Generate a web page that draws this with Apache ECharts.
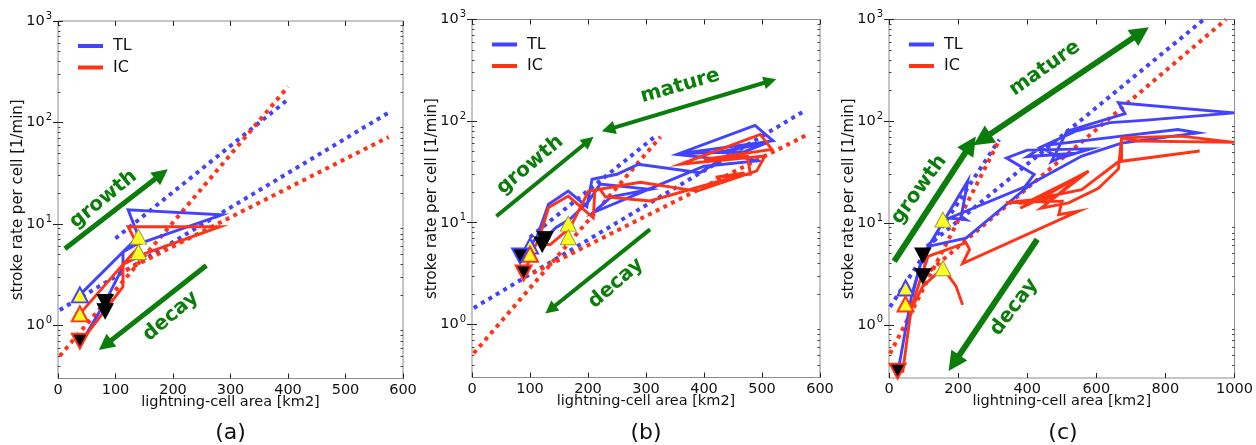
<!DOCTYPE html>
<html><head><meta charset="utf-8">
<script src="https://cdn.jsdelivr.net/npm/echarts@6/dist/echarts.min.js"></script>
<style>html,body{margin:0;padding:0;background:#fff}#c{width:1256px;height:445px}</style>
</head><body><div id="c"></div>
<script>
// ---------------- data ----------------
const panelLabels = ['(a)', '(b)', '(c)'];
const xMaxes = [600, 600, 1000];
const xIntervals = [100, 100, 200];
const yMajorTicks = [1, 10, 100, 1000];
const yMinorTicks = [0.4,0.5,0.6,0.7,0.8,0.9,2,3,4,5,6,7,8,9,20,30,40,50,60,70,80,90,200,300,400,500,600,700,800,900];
const yMin = 0.3, yMax = 1000;

// panel (a)
const tlA = [[38,2.0],[113,5.3],[134,6.2],[285,12.3],[122,13.8],[140,7.5],[113,5.3],[113,3.8],[82,1.7],[48,0.8],[38,0.72]];
const icA = [[38,1.3],[113,4.0],[151,5.1],[282,9.4],[122,9.4],[140,5.9],[113,4.0],[113,2.4],[47,0.78],[38,0.72]];
const fitTlA = [[[3,1.42],[575,125]], [[100,7.2],[398,165]]];
const fitIcA = [[[3,0.5],[400,225]], [[105,3.2],[575,72]]];
const startTlA = [[38,2.0]], startIcA = [[38,1.3]], startOtherA = [[140,7.5],[140,5.3]];
const endTlA = [], endIcA = [[38,0.7]], endOtherA = [[82,1.7],[82,1.38]];

// panel (b)
const tlB = [[100,5.9],[112,7.3],[132,15.2],[166,20.5],[198,14.4],[207,26.8],[250,30],[287,37.6],[393,31.1],[430,42],[353,47],[488,91],[519,64],[360,48],[470,50],[508,61],[430,50],[491,40.6],[400,36],[304,21.3],[209,12.6],[240,18],[307,21.3],[221,24],[200,16],[170,11],[145,9],[124,6.9]];
const tlB2 = [[100,6.2],[92,5.2],[83,4.7]];
const icB = [[101,4.9],[115,6.8],[132,14.1],[166,18.3],[209,11.2],[212,21],[290,25],[388,20.5],[491,32.4],[505,45.3],[359,37.6],[497,74],[517,52.7],[400,42],[475,45],[480,30],[420,28],[470,31],[440,27],[307,16.4],[230,18],[221,21.3],[201,20.5],[169,8.9],[135,6.1],[120,6.1]];
const icB2 = [[101,4.6],[95,3.8],[89,3.2]];
const fitTlB = [[[3,1.45],[575,128]], [[100,7.2],[315,70]]];
const fitIcB = [[[3,0.52],[325,70]], [[105,3.2],[575,72]]];
const startTlB = [[100,5.9]], startIcB = [[100,4.9]], startOtherB = [[166,9.8],[166,7.2]];
const endTlB = [[83,4.7]], endIcB = [[89,3.2]], endOtherB = [[126,6.9],[121,6.1]];

// panel (c)
const tlC = [[27,0.36],[65,1.9],[98,4.8],[161,10.8],[228,26],[209,11.6],[223,10.8],[175,11.2],[393,22.7],[420,30],[340,43.6],[400,52],[583,53.5],[496,43.6],[440,55],[400,45],[520,48],[470,40],[515,80],[683,119],[664,152],[999,121],[736,102],[640,97],[540,80],[450,58],[673,71.5],[836,83],[894,77],[673,61],[558,45.5],[415,24.8],[223,7.1],[113,5.9],[98,3.0]];
const tlC2 = [[40,2.1],[70,2.1],[98,4.8]];
const icC = [[27,0.35],[40,0.35],[65,1.5],[113,4.7],[223,6.4],[233,5.5],[213,4.0],[549,13.1],[491,12.1],[501,16.4],[338,15.8],[420,17],[578,32.4],[440,14],[520,15.8],[606,22],[664,34],[673,68.6],[846,71.5],[999,62],[721,64],[673,68],[673,40.6],[899,51],[664,40],[558,21.3],[450,18],[380,14],[470,20],[560,30],[400,16],[480,18],[530,25]];
const icC2 = [[48,1.55],[70,1.55],[98,2.4],[156,3.6],[194,2.4],[213,1.57]];
const fitTlC = [[[3,1.5],[319,66]], [[110,5.9],[911,1000]]];
const fitIcC = [[[3,0.52],[320,66]], [[100,3.0],[975,1000]]];
const startTlC = [[48,2.3]], startIcC = [[48,1.6]], startOtherC = [[156,10.8],[156,3.6]];
const endTlC = [], endIcC = [[25,0.35]], endOtherC = [[98,4.8],[98,3.0]];

// annotations (arrows + words), in data units of each panel
const arrowsA = [{from:[12,5.7], to:[180,31], both:false, w:5}, {from:[258,3.9], to:[82,0.64], both:false, w:5}];
const wordsA = [{text:'growth', at:[79,17.5], rot:39}, {text:'decay', at:[196,1.23], rot:40}];
const arrowsB = [{from:[42,11.6], to:[201,64], both:false, w:4}, {from:[235,83], to:[514,248], both:true, w:4}, {from:[307,8.6], to:[135,1.4], both:false, w:4}];
const wordsB = [{text:'growth', at:[100,37], rot:40}, {text:'mature', at:[359,221], rot:16}, {text:'decay', at:[248,2.53], rot:41}];
const arrowsC = [{from:[15,4.2], to:[236,59], both:false, w:6}, {from:[269,66], to:[729,743], both:true, w:6}, {from:[429,6.9], to:[188,0.42], both:false, w:6}];
const wordsC = [{text:'growth', at:[87,21.3], rot:54}, {text:'mature', at:[451,331], rot:35}, {text:'decay', at:[362,1.49], rot:53}];

const panels = [
  {tl:[tlA], ic:[icA], fitTl:fitTlA, fitIc:fitIcA, sTl:startTlA, sIc:startIcA, sO:startOtherA, eTl:endTlA, eIc:endIcA, eO:endOtherA, arrows:arrowsA, words:wordsA},
  {tl:[tlB, tlB2], ic:[icB, icB2], fitTl:fitTlB, fitIc:fitIcB, sTl:startTlB, sIc:startIcB, sO:startOtherB, eTl:endTlB, eIc:endIcB, eO:endOtherB, arrows:arrowsB, words:wordsB},
  {tl:[tlC, tlC2], ic:[icC, icC2], fitTl:fitTlC, fitIc:fitIcC, sTl:startTlC, sIc:startIcC, sO:startOtherC, eTl:endTlC, eIc:endIcC, eO:endOtherC, arrows:arrowsC, words:wordsC}
];

// ---------------- style / layout ----------------
const FONT = 'DejaVu Sans';
const BLUE = '#4242ff', RED = '#ff3316', GREEN = '#0a7d0a', YEL = '#ffff22';
const grids = [
  {left:58, top:21, width:345, height:357.5},
  {left:472, top:19.5, width:348, height:358},
  {left:889, top:19.5, width:348, height:358.5}
];

const option = {animation:false, backgroundColor:'#fff', grid:[], xAxis:[], yAxis:[], series:[], legend:[], graphic:[]};

grids.forEach((g, i) => {
  option.grid.push({left:g.left, top:g.top, width:g.width, height:g.height, show:true, borderColor:'#8c8c8c', borderWidth:1, backgroundColor:'transparent'});
  const xBase = {gridIndex:i, type:'value', min:0, max:xMaxes[i], interval:xIntervals[i], axisLine:{show:false}, splitLine:{show:false},
    axisTick:{show:true, inside:true, length:5, lineStyle:{color:'#222'}}};
  option.xAxis.push(Object.assign({}, xBase, {position:'bottom',
    axisLabel:{margin:4, fontSize:14.5, color:'#111', fontFamily:FONT, formatter: v => String(v)},
    name:'lightning-cell area [km2]', nameLocation:'middle', nameGap:16, nameMoveOverlap:false,
    nameTextStyle:{fontSize:14.5, color:'#111', fontFamily:FONT}}));
  option.xAxis.push(Object.assign({}, xBase, {position:'top', axisLabel:{show:false}}));
  const yBase = {gridIndex:i, type:'log', logBase:10, min:yMin, max:yMax, axisLine:{show:false}, splitLine:{show:false}, minorTick:{show:false}};
  option.yAxis.push(Object.assign({}, yBase, {position:'left',
    axisTick:{show:true, inside:true, length:5, customValues:yMajorTicks, lineStyle:{color:'#222'}},
    axisLabel:{show:true, customValues:yMajorTicks, margin:6, color:'#111',
      formatter: v => '{b|10}{s|' + Math.round(Math.log10(v)) + '}',
      rich:{b:{fontSize:14.5, fontFamily:FONT, color:'#111'}, s:{fontSize:10, fontFamily:FONT, color:'#111', padding:[0,0,10,1]}}},
    name:'stroke rate per cell [1/min]', nameLocation:'middle', nameGap:32, nameRotate:90, nameMoveOverlap:false,
    nameTextStyle:{fontSize:15, color:'#111', fontFamily:FONT}}));
  option.yAxis.push(Object.assign({}, yBase, {position:'right',
    axisTick:{show:true, inside:true, length:5, customValues:yMajorTicks, lineStyle:{color:'#222'}}, axisLabel:{show:false}}));
  option.yAxis.push(Object.assign({}, yBase, {position:'left',
    axisTick:{show:true, inside:true, length:2.5, customValues:yMinorTicks, lineStyle:{color:'#444'}}, axisLabel:{show:false}}));
  option.yAxis.push(Object.assign({}, yBase, {position:'right',
    axisTick:{show:true, inside:true, length:2.5, customValues:yMinorTicks, lineStyle:{color:'#444'}}, axisLabel:{show:false}}));

  option.legend.push({left:g.left+15, top:g.top+12, orient:'vertical', itemGap:5.5, itemWidth:25, itemHeight:4, icon:'rect',
    selectedMode:false, data:['TL','IC'], textStyle:{fontSize:16, color:'#111', fontFamily:FONT, padding:[0,0,0,5]}});

  const p = panels[i];
  const xi = i*2, yi = i*4;
  const fit = (d, c) => ({type:'line', xAxisIndex:xi, yAxisIndex:yi, data:d, showSymbol:false, symbol:'none', silent:true, z:2,
    lineStyle:{color:c, width:4, type:[4,4.6], cap:'butt'}});
  p.fitTl.forEach(d => option.series.push(fit(d, BLUE)));
  p.fitIc.forEach(d => option.series.push(fit(d, RED)));
  const path = (name, d, c) => ({name, type:'line', xAxisIndex:xi, yAxisIndex:yi, data:d, showSymbol:false, symbol:'none', z:3,
    color:c, lineStyle:{color:c, width:2.9, join:'miter'}});
  p.tl.forEach(d => option.series.push(path('TL', d, BLUE)));
  p.ic.forEach(d => option.series.push(path('IC', d, RED)));

  // arrows
  p.arrows.forEach(a => option.series.push({type:'lines', coordinateSystem:'cartesian2d', xAxisIndex:xi, yAxisIndex:yi, z:4, silent:true,
    symbol:[a.both ? 'triangle' : 'none', 'triangle'], symbolSize:[a.w*3.4, a.w*3.2],
    lineStyle:{color:GREEN, width:a.w, opacity:1, curveness:0},
    data:[{coords:[a.from, a.to]}]}));
  // words
  option.series.push({type:'scatter', xAxisIndex:xi, yAxisIndex:yi, symbolSize:2, z:6, silent:true, clip:false,
    itemStyle:{color:'rgba(255,255,255,0)', opacity:1},
    data:p.words.map(w => ({name:w.text, value:w.at, label:{rotate:w.rot}})),
    label:{show:true, position:'inside', formatter:'{b}', color:GREEN, opacity:1, fontSize:20, fontWeight:'bold', fontFamily:FONT}});

  // markers
  const mk = (d, up, fill, edge, ew) => ({type:'scatter', xAxisIndex:xi, yAxisIndex:yi, data:d, symbol:'triangle', symbolRotate: up ? 0 : 180,
    symbolSize:[16,15], clip:false, z:7, silent:true, itemStyle:{color:fill, borderColor:edge, borderWidth:ew, opacity:1}});
  option.series.push(mk(p.sO, true, YEL, '#9a9a3a', 1));
  option.series.push(mk(p.eO, false, '#000', '#000', 1));
  option.series.push(mk(p.sTl, true, YEL, BLUE, 2));
  option.series.push(mk(p.sIc, true, YEL, RED, 2));
  option.series.push(mk(p.eTl, false, '#000', BLUE, 2));
  option.series.push(mk(p.eIc, false, '#000', RED, 2));

  option.graphic.push({type:'text', x:g.left + g.width/2, y:433, silent:true,
    style:{text:panelLabels[i], fill:'#111', fontSize:22, fontFamily:FONT, textAlign:'center', textVerticalAlign:'middle'}});
});

const chart = echarts.init(document.getElementById('c'));
chart.setOption(option);
</script>
</body></html>
